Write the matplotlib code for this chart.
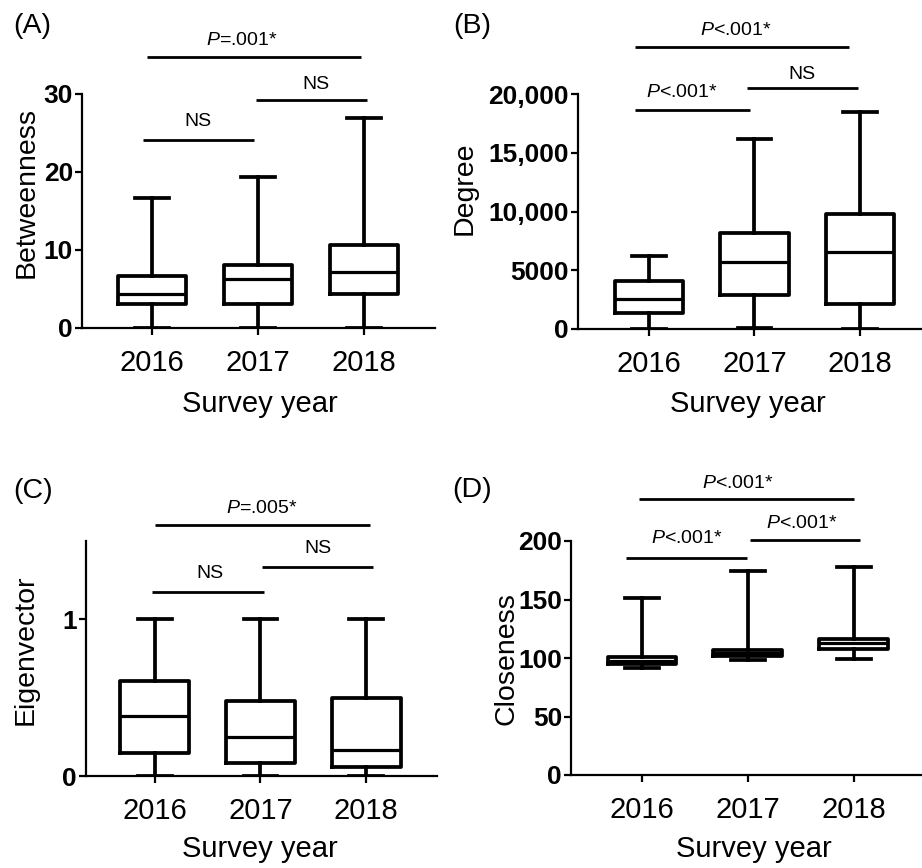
import matplotlib
matplotlib.use('Agg')
import matplotlib.pyplot as plt

plt.rcParams['font.family'] = ['Liberation Sans', 'DejaVu Sans']
plt.rcParams['mathtext.fontset'] = 'custom'
plt.rcParams['mathtext.rm'] = 'Liberation Sans'
plt.rcParams['mathtext.it'] = 'Liberation Sans:italic'

years = ['2016', '2017', '2018']
xlabel = 'Survey year'

# (A) Betweenness
betw_lo = [0, 0, 0]
betw_q1 = [3.1, 3.1, 4.3]
betw_med = [4.4, 6.3, 7.2]
betw_q3 = [6.7, 8.1, 10.6]
betw_hi = [16.7, 19.3, 26.9]
betw_ticks = [0, 10, 20, 30]
betw_ticklabels = ['0', '10', '20', '30']

# (B) Degree
deg_lo = [0, 50, 0]
deg_q1 = [1390, 2890, 2100]
deg_med = [2550, 5670, 6580]
deg_q3 = [4090, 8140, 9760]
deg_hi = [6210, 16140, 18490]
deg_ticks = [0, 5000, 10000, 15000, 20000]
deg_ticklabels = ['0', '5000', '10,000', '15,000', '20,000']

# (C) Eigenvector
eig_lo = [0, 0, 0]
eig_q1 = [0.144, 0.086, 0.058]
eig_med = [0.385, 0.246, 0.169]
eig_q3 = [0.605, 0.481, 0.496]
eig_hi = [1.0, 1.0, 1.0]
eig_ticks = [0, 1]
eig_ticklabels = ['0', '1']

# (D) Closeness
clo_lo = [91.6, 98.1, 99.0]
clo_q1 = [94.5, 101.5, 107.5]
clo_med = [97.5, 104.0, 112.9]
clo_q3 = [100.5, 106.8, 116.2]
clo_hi = [151.6, 174.4, 177.8]
clo_ticks = [0, 50, 100, 150, 200]
clo_ticklabels = ['0', '50', '100', '150', '200']

# comparisons: (group a, group b, label)
betw_tests = [(1, 3, r'$P$=.001*'), (1, 2, 'NS'), (2, 3, 'NS')]
deg_tests = [(1, 3, r'$P$<.001*'), (1, 2, r'$P$<.001*'), (2, 3, 'NS')]
eig_tests = [(1, 3, r'$P$=.005*'), (1, 2, 'NS'), (2, 3, 'NS')]
clo_tests = [(1, 3, r'$P$<.001*'), (1, 2, r'$P$<.001*'), (2, 3, r'$P$<.001*')]

W, H = 922, 868
fig = plt.figure(figsize=(W / 100, H / 100), dpi=100)


def px_axes(l, r, t, b):
    return fig.add_axes([l / W, 1 - b / H, (r - l) / W, (b - t) / H])


# layout: axes box in pixels, xlim, ylim, bracket geometry
panels = [
    dict(name='(A)', ylabel='Betweenness', box=(82, 435, 94, 328), xlim=(0.34, 3.67), ylim=(0, 30),
         lo=betw_lo, q1=betw_q1, med=betw_med, q3=betw_q3, hi=betw_hi,
         ticks=betw_ticks, tlabels=betw_ticklabels, tests=betw_tests,
         bars=[(0.95, 2.97, 34.7, 1.85, 36.3), (0.92, 1.96, 24.1, 1.43, 25.9), (1.98, 3.03, 29.2, 2.55, 30.7)],
         plabel=(13, 33), ylab=(34, 192), xlab=(260, 412)),
    dict(name='(B)', ylabel='Degree', box=(578, 922, 94, 329), xlim=(0.327, 3.588), ylim=(0, 20000),
         lo=deg_lo, q1=deg_q1, med=deg_med, q3=deg_q3, hi=deg_hi,
         ticks=deg_ticks, tlabels=deg_ticklabels, tests=deg_tests,
         bars=[(0.87, 2.90, 23970, 1.82, 25020), (0.87, 1.96, 18640, 1.31, 19770), (1.93, 2.98, 20480, 2.45, 21250)],
         plabel=(453, 33), ylab=(472, 188), xlab=(748, 412)),
    dict(name='(C)', ylabel='Eigenvector', box=(86, 437, 541, 776), xlim=(0.35, 3.67), ylim=(0, 1.5),
         lo=eig_lo, q1=eig_q1, med=eig_med, q3=eig_q3, hi=eig_hi,
         ticks=eig_ticks, tlabels=eig_ticklabels, tests=eig_tests,
         bars=[(1.0, 3.04, 1.603, 2.01, 1.678), (0.97, 2.03, 1.173, 1.52, 1.267), (2.01, 3.06, 1.331, 2.54, 1.421)],
         plabel=(13, 498), ylab=(33, 650), xlab=(260, 857)),
    dict(name='(D)', ylabel='Closeness', box=(571, 922, 541, 775), xlim=(0.329, 3.646), ylim=(0, 200),
         lo=clo_lo, q1=clo_q1, med=clo_med, q3=clo_q3, hi=clo_hi,
         ticks=clo_ticks, tlabels=clo_ticklabels, tests=clo_tests,
         bars=[(0.97, 3.0, 235.6, 1.91, 244.9), (0.85, 1.99, 185.8, 1.42, 198.6), (2.02, 3.06, 200.6, 2.51, 211.4)],
         plabel=(452, 497), ylab=(513, 659), xlab=(754, 857)),
]

lw = 2.7
for p in panels:
    ax = px_axes(*p['box'])
    stats = []
    for i in range(3):
        stats.append(dict(med=p['med'][i], q1=p['q1'][i], q3=p['q3'][i],
                          whislo=p['lo'][i], whishi=p['hi'][i], fliers=[]))
    ax.bxp(stats, positions=[1, 2, 3], widths=0.65, capwidths=0.32, showfliers=False,
           boxprops=dict(color='black', linewidth=lw),
           medianprops=dict(color='black', linewidth=2.3),
           whiskerprops=dict(color='black', linewidth=lw),
           capprops=dict(color='black', linewidth=lw))
    ax.set_xlim(*p['xlim'])
    ax.set_ylim(*p['ylim'])
    ax.set_xticks([1, 2, 3])
    ax.set_xticklabels(years, fontsize=21)
    ax.set_yticks(p['ticks'])
    ax.set_yticklabels(p['tlabels'], fontsize=19, fontweight='bold')
    for s in ['top', 'right']:
        ax.spines[s].set_visible(False)
    for s in ['left', 'bottom']:
        ax.spines[s].set_linewidth(1.6)
    ax.tick_params(axis='both', direction='out', length=5, width=1.6)
    ax.tick_params(axis='x', pad=10)
    ax.tick_params(axis='y', pad=1.5)

    for (a, b, lab), (x1, x2, y, tx, ty) in zip(p['tests'], p['bars']):
        ax.plot([x1, x2], [y, y], color='black', lw=2, clip_on=False, solid_capstyle='butt')
        ax.text(tx, ty, lab, fontsize=14, ha='center', va='baseline')

    fig.text(p['plabel'][0] / W, 1 - p['plabel'][1] / H, p['name'], fontsize=20.5,
             ha='left', va='baseline')
    fig.text(p['ylab'][0] / W, 1 - p['ylab'][1] / H, p['ylabel'], fontsize=20.5,
             rotation=90, rotation_mode='anchor', ha='center', va='baseline')
    fig.text(p['xlab'][0] / W, 1 - p['xlab'][1] / H, xlabel, fontsize=21,
             ha='center', va='baseline')

fig.savefig('out.png', dpi=100)
